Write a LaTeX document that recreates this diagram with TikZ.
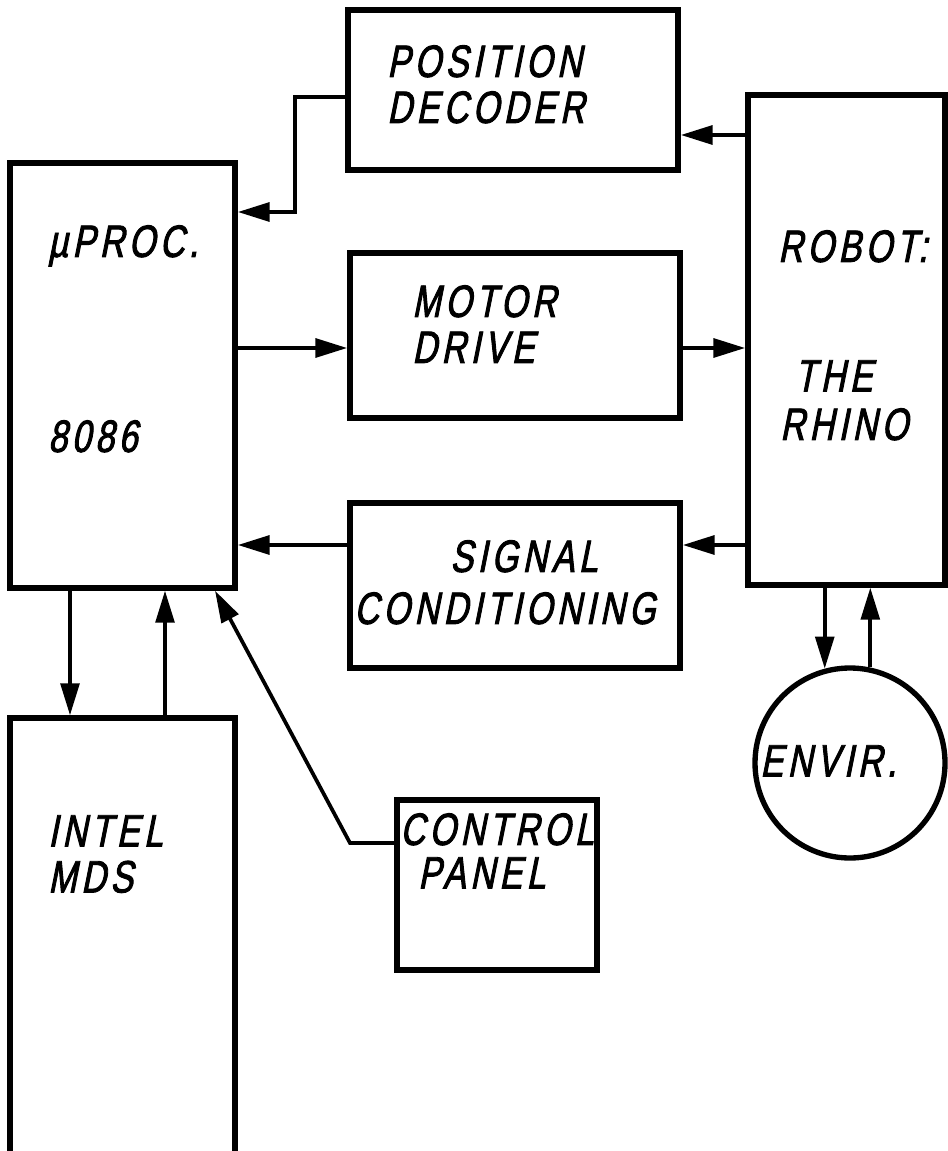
\documentclass[tikz,border=0pt]{standalone}
\usepackage{fontspec}
\newfontfamily\lettering{Liberation Sans}[FakeStretch=0.75, FakeSlant=0.2, FakeBold=2, LetterSpace=10]
\usetikzlibrary{arrows.meta}

\begin{document}
\begin{tikzpicture}[x=0.75pt, y=-0.75pt,
  box/.style={draw, line width=4pt, inner sep=0pt},
  txt/.style={anchor=north west, inner sep=0pt, align=left, font=\lettering\fontsize{34}{34.5}\selectfont},
  arr/.style={-{Triangle[length=24pt, width=14pt]}, line width=3.2pt}]
\useasboundingbox (0,0) rectangle (947,1151);
\node[box, minimum width=225*0.75pt, minimum height=425*0.75pt] (proc) at (122.5,375.5) {};
\node[box, minimum width=330*0.75pt, minimum height=160*0.75pt] (posdec) at (513,90) {};
\node[box, minimum width=330*0.75pt, minimum height=165*0.75pt] (motor) at (515,335.5) {};
\node[box, minimum width=330*0.75pt, minimum height=165*0.75pt] (signal) at (515,585.5) {};
\node[box, minimum width=197*0.75pt, minimum height=490*0.75pt] (robot) at (846.5,340) {};
\node[box, minimum width=225*0.75pt, minimum height=450*0.75pt] (intel) at (122.5,943) {};
\node[box, minimum width=200*0.75pt, minimum height=170*0.75pt] (control) at (497,885) {};
\node[box, circle, minimum size=190*0.75pt] (envir) at (850,763) {};

\node[txt] (proctxt) at (48,225) {µPROC.};
\node[txt] (proctxt2) at (48,420) {8086};
\node[txt] (posdectxt) at (387,45) {POSITION\\DECODER};
\node[txt] (motortxt) at (412,285) {MOTOR\\DRIVE};
\node[txt] (signaltxt) at (450,540) {SIGNAL};
\node[txt] (signaltxt2) at (354,592) {CONDITIONING};
\node[txt] (robottxt) at (778,230) {ROBOT:};
\node[txt] (robottxt2) at (795,360) {THE};
\node[txt] (robottxt3) at (780,408) {RHINO};
\node[txt] (inteltxt) at (48,815) {INTEL\\MDS};
\node[txt] (controltxt) at (400,813) {CONTROL};
\node[txt] (controltxt2) at (418,857) {PANEL};
\node[txt] (envirtxt) at (760,745) {ENVIR.};

\coordinate (decbend) at (295,97);
\coordinate (panelbend) at (350,843);
\draw[arr] (posdec.west |- decbend) -- (decbend) |- (proc.east |- 0,212);
\draw[arr] (robot.west |- 0,135) -- (posdec.east |- 0,135);
\draw[arr] (proc.east |- 0,348) -- (motor.west |- 0,348);
\draw[arr] (motor.east |- 0,348) -- (robot.west |- 0,348);
\draw[arr] (robot.west |- 0,545) -- (signal.east |- 0,545);
\draw[arr] (signal.west |- 0,545) -- (proc.east |- 0,545);
\draw[arr, line width=2.8pt] (proc.south -| 70,0) -- (intel.north -| 70,0);
\draw[arr, line width=2.8pt] (intel.north -| 165,0) -- (proc.south -| 165,0);
\draw[arr, line width=2.8pt] (control.west |- panelbend) -- (panelbend) -- (proc.south -| 215,0);
\draw[arr, line width=2.8pt] (robot.south -| envir.105) -- (envir.105);
\draw[arr, line width=2.8pt] (envir.78) -- (robot.south -| envir.78);
\end{tikzpicture}
\end{document}
